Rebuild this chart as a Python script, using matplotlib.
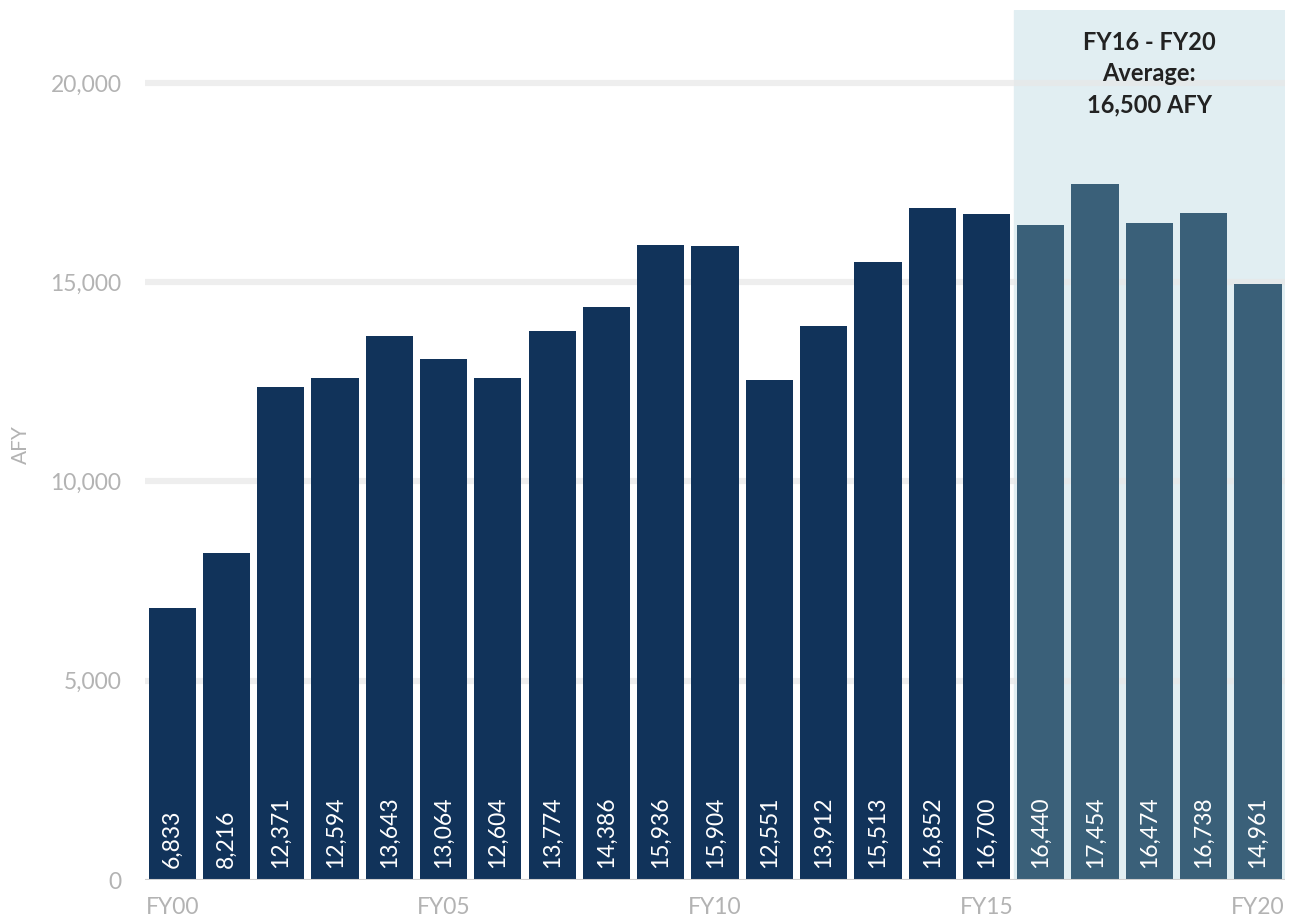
import matplotlib
matplotlib.use("Agg")
import matplotlib.pyplot as plt
from matplotlib.ticker import FuncFormatter

plt.rcParams['font.family'] = ['Lato', 'DejaVu Sans']

# Annual deliveries (AFY) by fiscal year
years = ["FY%02d" % y for y in range(0, 21)]
values = [6833, 8216, 12371, 12594, 13643, 13064, 12604, 13774, 14386, 15936,
          15904, 12551, 13912, 15513, 16852, 16700, 16440, 17454, 16474, 16738, 14961]
avg_label = "FY16 - FY20\nAverage:\n16,500 AFY"
avg_start = 16  # first year of the averaging window

dark = "#11335a"
light = "#3a6079"
shade = "#e1eef2"
grey = "#b3b3b3"

fig = plt.figure(figsize=(12.97, 9.24), dpi=100)
ax = fig.add_axes([0.1118, 0.0476, 0.879, 0.9416])

x = list(range(len(values)))
colors = [light if i >= avg_start else dark for i in x]

# highlighted averaging window
ax.axvspan(avg_start - 0.5, len(values) - 0.5, color=shade, zorder=0)

for yv in [5000, 10000, 15000, 20000]:
    ax.axhline(yv, color="#e8e8e8", lw=4.5, alpha=0.7, zorder=1)

ax.bar(x, values, width=0.87, color=colors, zorder=2)
ax.axhline(0, color="#d0d0d0", lw=1.5, zorder=3)

for i, v in zip(x, values):
    ax.text(i, 300, f"{v:,}", rotation=90, ha="center", va="bottom",
            color="white", fontsize=16.5, zorder=4)

ax.text((avg_start - 0.5 + len(values) - 0.5) / 2, 21300, avg_label,
        ha="center", va="top", fontsize=17, fontweight="bold",
        color="#222222", linespacing=1.42, zorder=4)

ax.set_xlim(-0.5, len(values) - 0.5)
ax.set_ylim(0, 21830)
ax.set_yticks([0, 5000, 10000, 15000, 20000])
ax.yaxis.set_major_formatter(FuncFormatter(lambda v, p: f"{int(v):,}"))
ax.set_xticks([0, 5, 10, 15, 20])
ax.set_xticklabels([years[i] for i in [0, 5, 10, 15, 20]])
ax.tick_params(axis="both", length=0, colors=grey, labelsize=16.5)
ax.tick_params(axis="x", pad=12)
ax.tick_params(axis="y", pad=17)
ax.set_ylabel("AFY", color=grey, fontsize=15, labelpad=14)

for s in ax.spines.values():
    s.set_visible(False)

fig.savefig("out.png", dpi=100)
